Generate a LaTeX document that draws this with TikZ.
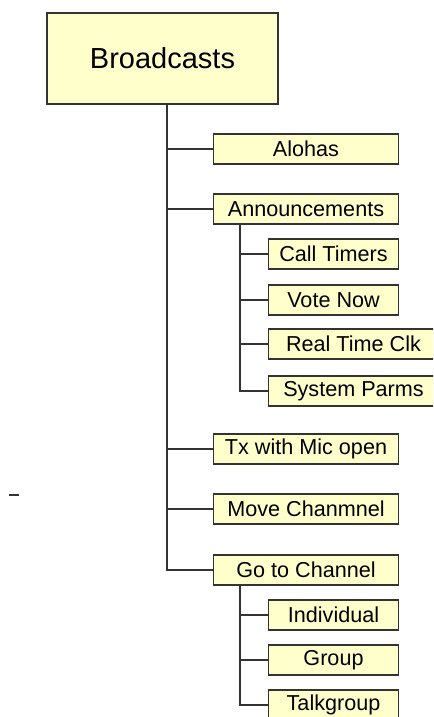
\documentclass[tikz,border=0pt]{standalone}
\usepackage{fontspec}
\setmainfont{Liberation Sans}
\definecolor{boxfill}{HTML}{FFFFCC}
\tikzset{
  topic/.style={draw=black!80, fill=boxfill, line width=0.6pt, minimum height=0.6cm,
    inner sep=0pt, font=\fontsize{12.3}{14}\selectfont, anchor=west},
  leaf/.style={topic, minimum width=3.7cm},
  subleaf/.style={topic, minimum width=2.6cm},
  wideleaf/.style={topic, minimum width=3.4cm},
  link/.style={draw=black!80, line width=0.6pt}
}
\begin{document}
\begin{tikzpicture}[x=0.02cm, y=-0.02cm]
\useasboundingbox (0,0) rectangle (433,717);
\clip (0,0) rectangle (433,717);

\node[topic, anchor=center, minimum width=4.62cm, minimum height=1.82cm,
  font=\fontsize{16.5}{19}\selectfont] (0) at (162.5,58.5) {Broadcasts};

\node[leaf] (1) at (213,149) {Alohas};
\node[leaf] (2) at (213,209) {Announcements};
\node[subleaf] (21) at (268,254) {Call Timers};
\node[subleaf] (22) at (268,300) {Vote Now};
\node[wideleaf] (23) at (268,344) {Real Time Clk};
\node[wideleaf] (24) at (268,391) {System Parms};
\node[leaf] (3) at (213,449) {Tx with Mic open};
\node[leaf] (4) at (213,509) {Move Chanmnel};
\node[leaf] (5) at (213,570) {Go to Channel};
\node[subleaf] (51) at (268,615) {Individual};
\node[subleaf] (52) at (268,660) {Group};
\node[subleaf] (53) at (268,705) {Talkgroup};

\path[link] (0.south) ++(4.5,0) |- (1.west);
\path[link] (0.south) ++(4.5,0) |- (2.west);
\path[link] (0.south) ++(4.5,0) |- (3.west);
\path[link] (0.south) ++(4.5,0) |- (4.west);
\path[link] (0.south) ++(4.5,0) |- (5.west);

\path[link] (2.south west) ++(27,0) |- (21.west);
\path[link] (2.south west) ++(27,0) |- (22.west);
\path[link] (2.south west) ++(27,0) |- (23.west);
\path[link] (2.south west) ++(27,0) |- (24.west);

\path[link] (5.south west) ++(27,0) |- (51.west);
\path[link] (5.south west) ++(27,0) |- (52.west);
\path[link] (5.south west) ++(27,0) |- (53.west);

\draw[link] (9,495) -- (19,495);
\end{tikzpicture}
\end{document}
